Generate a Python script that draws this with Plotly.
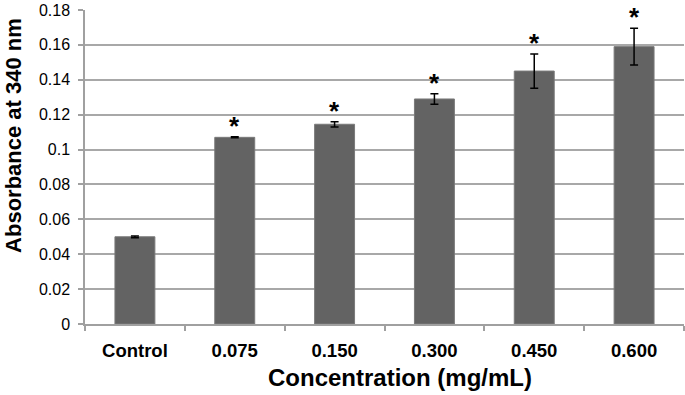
import plotly.graph_objects as go

categories = ["Control", "0.075", "0.150", "0.300", "0.450", "0.600"]
absorbance = [0.050, 0.107, 0.1145, 0.129, 0.145, 0.159]
errors = [0.0005, 0.0003, 0.0015, 0.003, 0.0098, 0.0105]
significant = [False, True, True, True, True, True]
y_ticks = [0, 0.02, 0.04, 0.06, 0.08, 0.1, 0.12, 0.14, 0.16, 0.18]
y_tick_text = ["0", "0.02", "0.04", "0.06", "0.08", "0.1", "0.12", "0.14", "0.16", "0.18"]
x_title = "Concentration (mg/mL)"
y_title = "Absorbance at 340 nm"

FONT = "Liberation Sans, Arial, Helvetica, sans-serif"

fig = go.Figure()
fig.add_trace(go.Bar(
    x=categories, y=absorbance,
    width=0.4,
    marker=dict(color="#636363", line=dict(color="#7a7a7a", width=1)),
    error_y=dict(type="data", array=errors, visible=True, color="black",
                 thickness=1.5, width=4),
))

for i, (v, e, s) in enumerate(zip(absorbance, errors, significant)):
    if s:
        fig.add_annotation(x=i, y=v + e, text="<b>*</b>", showarrow=False,
                           yanchor="bottom", yshift=-6,
                           font=dict(family=FONT, size=26, color="black"))

fig.add_annotation(xref="paper", yref="paper", x=-0.1185, y=0.599,
                   text=f"<b>{y_title}</b>", textangle=-90,
                   showarrow=False, xanchor="center", yanchor="middle",
                   font=dict(family=FONT, size=22, color="black"))

fig.add_annotation(xref="paper", yref="paper", x=0.526, y=-0.169,
                   text=f"<b>{x_title}</b>",
                   showarrow=False, xanchor="center", yanchor="middle",
                   font=dict(family=FONT, size=24, color="black"))

fig.update_layout(
    width=685, height=395,
    margin=dict(l=85, r=1, t=10, b=71, autoexpand=False),
    paper_bgcolor="white", plot_bgcolor="white",
    showlegend=False,
    bargap=0.6,
    font=dict(family=FONT, color="black"),
    xaxis=dict(
        type="category",
        range=[-0.5, 5.5],
        automargin=False,
        showline=True, linecolor="#a0a0a0", linewidth=1.5,
        ticks="outside", tickson="boundaries", ticklen=5, tickcolor="#a0a0a0", tickwidth=1.5,
        ticklabelstandoff=9,
        tickfont=dict(family=FONT, size=18.5, color="black", weight="bold"),
        showgrid=False,
    ),
    yaxis=dict(
        range=[0, 0.18],
        automargin=False,
        tickvals=y_ticks, ticktext=y_tick_text,
        showline=True, linecolor="#a0a0a0", linewidth=1.5,
        ticks="outside", ticklen=5, tickcolor="#a0a0a0", tickwidth=1.5,
        ticklabelstandoff=5,
        tickfont=dict(family=FONT, size=16, color="black"),
        showgrid=True, gridcolor="#a8a8a8", gridwidth=1.5,
        zeroline=False,
    ),
)

fig.write_html("out.html",
               config={"displayModeBar": False},
               post_script="document.body.style.margin='0';document.body.style.padding='0';")
